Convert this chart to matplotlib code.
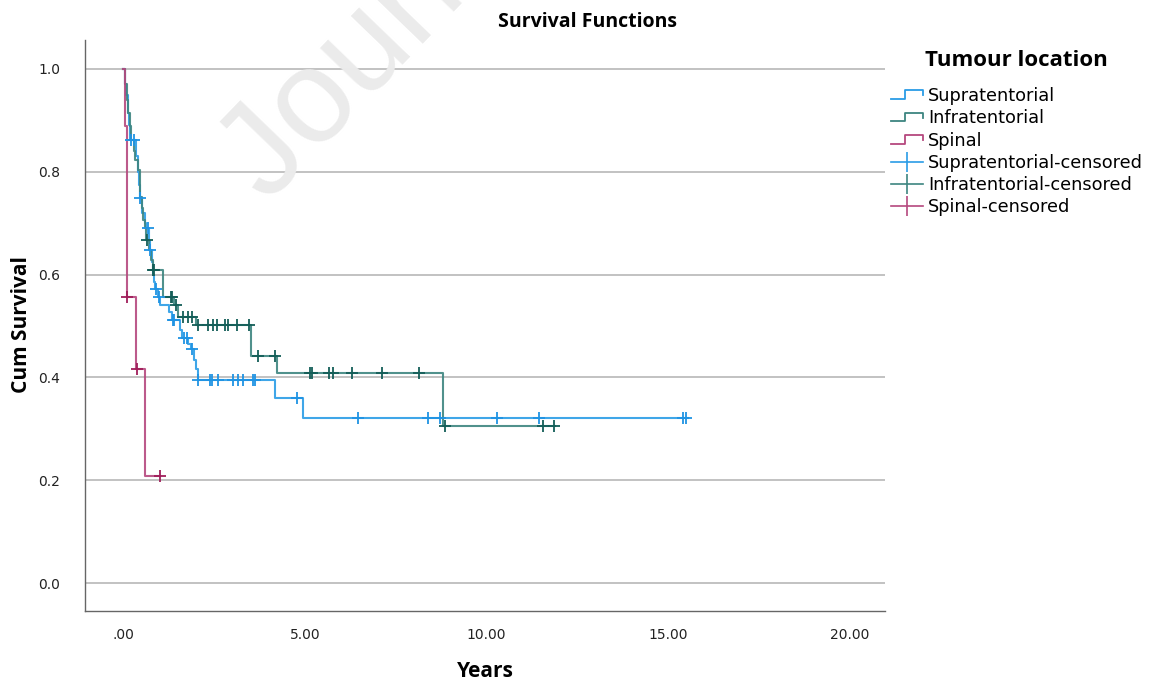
import numpy as np
import matplotlib
matplotlib.use("Agg")
import matplotlib.pyplot as plt
from matplotlib.lines import Line2D
from matplotlib.legend_handler import HandlerBase

# Kaplan-Meier step data (years, cumulative survival)
supra_times = [0, 0.05, 0.08, 0.12, 0.15, 0.18, 0.35, 0.40, 0.43, 0.45, 0.52, 0.58, 0.62,
               0.70, 0.72, 0.78, 0.82, 0.85, 0.88, 0.95, 1.00, 1.25, 1.35, 1.55, 1.62,
               1.78, 1.85, 1.95, 2.00, 2.05, 4.17, 4.94]
supra_surv = [1.0, 0.97, 0.95, 0.914, 0.89, 0.862, 0.83, 0.80, 0.775, 0.749, 0.72, 0.70, 0.69,
              0.665, 0.648, 0.625, 0.60, 0.585, 0.572, 0.556, 0.541, 0.527, 0.512, 0.492, 0.477,
              0.465, 0.455, 0.434, 0.417, 0.396, 0.360, 0.321]
supra_end = 15.55
supra_censored = [0.22, 0.30, 0.46, 0.67, 0.73, 0.90, 0.98, 1.36, 1.40, 1.66, 1.74, 1.89,
                  2.05, 2.38, 2.44, 2.60, 3.02, 3.16, 3.29, 3.57, 3.62, 4.77, 6.46, 8.39,
                  8.72, 10.29, 11.45, 15.42, 15.50]

infra_times = [0, 0.04, 0.10, 0.12, 0.18, 0.22, 0.30, 0.32, 0.40, 0.45, 0.46, 0.50, 0.54,
               0.60, 0.63, 0.70, 0.75, 0.80, 1.08, 1.40, 1.50, 2.00, 3.50, 4.23, 8.80]
infra_surv = [1.0, 0.97, 0.94, 0.914, 0.888, 0.862, 0.84, 0.823, 0.803, 0.78, 0.751, 0.73, 0.706,
              0.69, 0.667, 0.648, 0.628, 0.609, 0.556, 0.541, 0.518, 0.502, 0.442, 0.408, 0.305]
infra_end = 11.9
infra_censored = [0.64, 0.80, 0.83, 1.30, 1.35, 1.45, 1.65, 1.78, 1.90, 2.05, 2.33, 2.47,
                  2.58, 2.80, 2.88, 3.13, 3.46, 3.70, 4.17, 5.14, 5.19, 5.66, 5.77, 6.30,
                  7.12, 8.14, 8.86, 11.56, 11.86]

spinal_times = [0, 0.05, 0.10, 0.34, 0.60]
spinal_surv = [1.0, 0.889, 0.556, 0.417, 0.208]
spinal_end = 1.0
spinal_censored = [0.10, 0.37, 1.0]

groups = ["Supratentorial", "Infratentorial", "Spinal"]
line_colors = ["#2a9ce6", "#3d8580", "#b5487e"]
mark_colors = ["#1f93e3", "#145e58", "#a01e5a"]
series = [
    (supra_times, supra_surv, supra_end, supra_censored),
    (infra_times, infra_surv, infra_end, infra_censored),
    (spinal_times, spinal_surv, spinal_end, spinal_censored),
]

plt.rcParams["font.family"] = ["DejaVu Sans"]


class StepHandler(HandlerBase):
    def create_artists(self, legend, orig_handle, xdescent, ydescent, width, height, fontsize, trans):
        x0, x1 = -xdescent, -xdescent + width
        xm = x0 + width * 0.45
        y0 = -ydescent
        xs = [x0, xm, xm, x1, x1]
        ys = [y0 + height * 0.15, y0 + height * 0.15, y0 + height * 0.85, y0 + height * 0.85, y0 + height * 0.45]
        ln = Line2D(xs, ys, color=orig_handle.get_color(), lw=1.3, transform=trans)
        return [ln]


fig = plt.figure(figsize=(11.53, 6.81), dpi=100)
fig.patch.set_facecolor("white")
ax = fig.add_axes([85 / 1153, 70 / 681, 800 / 1153, 571 / 681])

# watermark
fig.text(268 / 1153, (681 - 205) / 681, "Journal Pre-proof", rotation=46, rotation_mode="anchor",
         ha="left", va="baseline", fontsize=96, color="#ebebeb", family="Liberation Sans", zorder=0)
ax.patch.set_alpha(0)

for (t, s, end, cens), lc, mc in zip(series, line_colors, mark_colors):
    xs = list(t) + [end]
    ys = list(s) + [s[-1]]
    ax.step(xs, ys, where="post", color=lc, lw=1.5, alpha=0.9, zorder=3)
    idx = np.searchsorted(np.array(t), np.array(cens), side="right") - 1
    cy = np.array(s)[idx]
    ax.plot(cens, cy, ls="none", marker="+", ms=9, mew=1.3, color=mc, zorder=4)

ax.set_xlim(-1.06, 20.98)
ax.set_ylim(-0.054, 1.056)
ax.set_xticks([0, 5, 10, 15, 20])
ax.set_xticklabels([".00", "5.00", "10.00", "15.00", "20.00"])
ax.set_yticks([0.0, 0.2, 0.4, 0.6, 0.8, 1.0])
ax.set_yticklabels(["0.0", "0.2", "0.4", "0.6", "0.8", "1.0"])
ax.tick_params(length=0, labelsize=10, colors="#222222", pad=12)
ax.tick_params(axis="y", pad=18)
ax.yaxis.grid(True, color="#bdbdbd", lw=1.3)
ax.set_axisbelow(True)
for side in ["top", "right"]:
    ax.spines[side].set_visible(False)
for side in ["left", "bottom"]:
    ax.spines[side].set_color("#666666")
    ax.spines[side].set_linewidth(1.0)

ax.set_xlabel("Years", fontsize=15, fontweight="bold", family="Open Sans", labelpad=14)
fig.text(22 / 1153, (681 - 325) / 681, "Cum Survival", rotation=90, ha="center", va="center",
         fontsize=15, fontweight="bold", family="Open Sans")
fig.text(588 / 1153, (681 - 22) / 681, "Survival Functions", ha="center", va="center",
         fontsize=14, fontweight="bold", family="Open Sans")

handles = [Line2D([], [], color=c) for c in line_colors]
handles += [Line2D([], [], color=c, marker="|", ms=14, mew=1.2, lw=1.2) for c in line_colors]
labels = groups + [g + "-censored" for g in groups]
hmap = {h: StepHandler() for h in handles[:3]}
fig.text(925 / 1153, (681 - 61) / 681, "Tumour location", ha="left", va="center",
         fontsize=16, fontweight="bold", family="Open Sans")
leg = fig.legend(handles, labels, loc="upper left", bbox_to_anchor=(875 / 1153, (681 - 71) / 681),
                 frameon=False, fontsize=12.8, handler_map=hmap,
                 handlelength=1.8, handletextpad=0.3, labelspacing=0.24, numpoints=1)

fig.savefig("out.png", dpi=100)
